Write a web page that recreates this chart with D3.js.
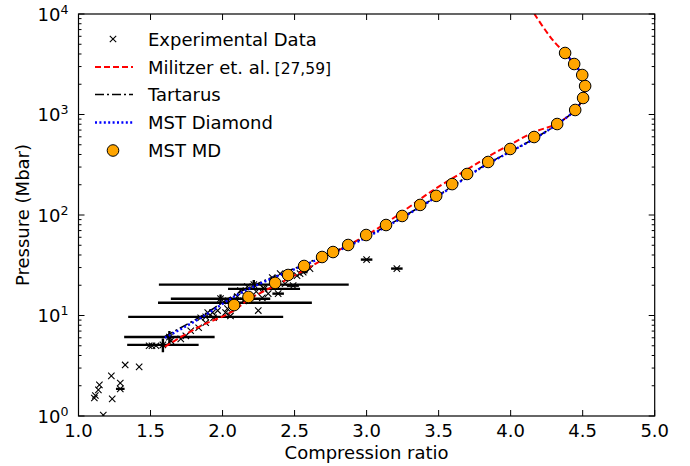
<!DOCTYPE html>
<html>
<head>
<meta charset="utf-8">
<script src="https://cdn.jsdelivr.net/npm/d3@7/dist/d3.min.js"></script>
<style>
  html, body { margin: 0; padding: 0; background: #fff; }
  text { font-family: "DejaVu Sans", sans-serif; fill: #000; }
</style>
</head>
<body>
<svg id="chart" width="690" height="466"></svg>
<script>
// ---------------- data ----------------
const xTicks = [1.0, 1.5, 2.0, 2.5, 3.0, 3.5, 4.0, 4.5, 5.0];
const xTickLabels = ["1.0", "1.5", "2.0", "2.5", "3.0", "3.5", "4.0", "4.5", "5.0"];
const yTicks = [1, 10, 100, 1000, 10000];
const yTickExps = ["0", "1", "2", "3", "4"];

// MST MD (orange circles)
const mdX = [2.08, 2.18, 2.365, 2.455, 2.566, 2.691, 2.767, 2.872, 2.997, 3.135, 3.247, 3.372, 3.483, 3.594, 3.698, 3.844, 3.997, 4.163, 4.323, 4.448, 4.503, 4.517, 4.497, 4.441, 4.378];
const mdP = [12.7, 15.3, 21.1, 25.3, 31.1, 38.2, 42.8, 50.3, 63.2, 79.5, 97.8, 126, 155, 203, 256, 337, 454, 597, 804, 1109, 1459, 1921, 2471, 3180, 4093];

// Militzer et al. (red dashed)
const milX = [1.6, 1.85, 2.05, 2.2, 2.4, 2.6, 2.8, 3.0, 3.2, 3.45, 3.7, 3.85, 4.0, 4.16, 4.32, 4.448, 4.503, 4.517, 4.497, 4.441, 4.378, 4.309, 4.24, 4.165];
const milP = [4.9, 7.9, 10.6, 15, 21, 30, 44, 63, 96, 172, 285, 385, 505, 665, 810, 1109, 1459, 1921, 2471, 3180, 4093, 5150, 6930, 10000];

// Tartarus (black dash-dot)
const tarX = [1.6, 1.85, 2.1, 2.3, 2.55, 2.8, 3.0, 3.2, 3.4, 3.6, 3.8, 4.0, 4.163, 4.323, 4.448, 4.503, 4.517, 4.497, 4.441, 4.378];
const tarP = [6.2, 9.8, 16.5, 22.5, 31.5, 45, 61, 87, 128, 195, 300, 430, 575, 800, 1109, 1459, 1921, 2471, 3180, 4093];

// MST Diamond (blue dotted)
const diaX = [1.6, 1.85, 2.1, 2.3, 2.55, 2.8, 3.0, 3.2, 3.4, 3.6, 3.8, 4.0, 4.163, 4.323, 4.448, 4.503, 4.517, 4.497, 4.441, 4.378];
const diaP = [6.0, 9.5, 16, 22, 31, 44, 60, 86, 127, 193, 298, 428, 572, 800, 1109, 1459, 1921, 2471, 3180, 4093];

// Experimental data (x markers, with error bars)
const expX = [1.110, 1.117, 1.138, 1.145, 1.172, 1.228, 1.234, 1.290, 1.290, 1.324, 1.421, 1.490, 1.510, 1.538, 1.586, 1.631, 1.641, 1.710, 1.745, 1.779, 1.834, 1.883, 1.848, 1.897, 1.938, 1.931, 1.966, 1.986, 2.021, 2.055, 2.034, 1.883, 2.145, 2.086, 2.217, 2.248, 2.276, 2.317, 2.386, 2.434, 2.490, 2.538, 2.345, 2.400, 2.517, 2.288, 2.124, 2.172, 2.041, 2.103, 2.234, 2.283, 2.607, 3.000, 3.210, 2.560];
const expP = [1.51, 1.60, 1.82, 2.04, 1.02, 2.51, 1.48, 2.13, 1.86, 3.22, 3.08, 5.0, 5.0, 5.0, 5.1, 6.1, 5.6, 5.86, 6.28, 7.05, 7.55, 8.47, 9.5, 10.7, 9.5, 10.7, 11.2, 14.7, 10.7, 9.9, 11.7, 9.7, 14.0, 13.4, 20.3, 11.2, 15.0, 16.5, 16.5, 20.7, 19.8, 26.1, 23.8, 26.1, 24.9, 18.4, 17.7, 19.4, 14.0, 15.4, 17.3, 18.9, 29.3, 36.0, 29.3, 27.0];
const expXErr = [0, 0, 0, 0, 0, 0, 0, 0, 0.03, 0, 0, 0, 0, 0, 0.248, 0.314, 0, 0, 0, 0, 0, 0, 0, 0, 0, 0, 0, 0.345, 0, 0, 0, 0.538, 0, 0.534, 0.659, 0, 0, 0, 0.04, 0, 0.04, 0, 0, 0, 0, 0.25, 0, 0, 0, 0, 0, 0, 0, 0.04, 0.04, 0.03];
const expPErr = [0, 0, 0, 0, 0, 0, 0, 0, 0, 0, 0, 0, 0, 0, 0.8, 0.9, 0, 0, 0, 0, 0, 0, 0, 0, 0, 0, 0, 1.5, 0, 0, 0, 0, 0, 0, 2.2, 0, 0, 0, 0, 0, 0, 0, 0, 0, 0, 0, 0, 0, 0, 0, 0, 0, 0, 0, 0, 0];

const legendLabels = ["Experimental Data", "Militzer et. al.", "Tartarus", "MST Diamond", "MST MD"];

// ---------------- layout ----------------
const W = 690, H = 466;
const plotL = 78.5, plotR = 654.7, plotT = 14, plotB = 416;
const svg = d3.select("#chart");

const x = d3.scaleLinear().domain([1, 5]).range([plotL, plotR]);
const y = d3.scaleLog().domain([1, 10000]).range([plotB, plotT]);

svg.append("defs").append("clipPath").attr("id", "clip")
  .append("rect").attr("x", plotL).attr("y", plotT)
  .attr("width", plotR - plotL).attr("height", plotB - plotT);

const plot = svg.append("g").attr("clip-path", "url(#clip)");

// experimental data
const expData = expX.map((v, i) => ({x: v, p: expP[i], xe: expXErr[i], pe: expPErr[i]}));
const eg = plot.append("g");
expData.filter(d => d.xe > 0).forEach(d => {
  eg.append("line").attr("x1", x(d.x - d.xe)).attr("x2", x(d.x + d.xe))
    .attr("y1", y(d.p)).attr("y2", y(d.p))
    .attr("stroke", "#000").attr("stroke-width", 2.4);
});
expData.filter(d => d.pe > 0).forEach(d => {
  eg.append("line").attr("x1", x(d.x)).attr("x2", x(d.x))
    .attr("y1", y(d.p - d.pe)).attr("y2", y(d.p + d.pe))
    .attr("stroke", "#000").attr("stroke-width", 2.4);
});
const ms = 3.2;
expData.forEach(d => {
  const cx = x(d.x), cy = y(d.p);
  eg.append("path")
    .attr("d", `M${cx-ms},${cy-ms}L${cx+ms},${cy+ms}M${cx-ms},${cy+ms}L${cx+ms},${cy-ms}`)
    .attr("stroke", "#000").attr("stroke-width", 1.1).attr("fill", "none");
});

// lines
const line = d3.line().x(d => x(d[0])).y(d => y(d[1])).curve(d3.curveCatmullRom.alpha(0.5));
const mil = milX.map((v, i) => [v, milP[i]]);
const tar = tarX.map((v, i) => [v, tarP[i]]);
const dia = diaX.map((v, i) => [v, diaP[i]]);

plot.append("path").attr("d", line(mil)).attr("fill", "none")
  .attr("stroke", "#ff0000").attr("stroke-width", 2).attr("stroke-dasharray", "6,3");
plot.append("path").attr("d", line(tar)).attr("fill", "none")
  .attr("stroke", "#000").attr("stroke-width", 1.6).attr("stroke-dasharray", "9,3,2,3");
plot.append("path").attr("d", line(dia)).attr("fill", "none")
  .attr("stroke", "#0000ff").attr("stroke-width", 2.4).attr("stroke-dasharray", "2,2.4");

// MST MD circles
plot.append("g").selectAll("circle").data(mdX.map((v, i) => [v, mdP[i]])).join("circle")
  .attr("cx", d => x(d[0])).attr("cy", d => y(d[1])).attr("r", 5.8)
  .attr("fill", "#ffa500").attr("stroke", "#000").attr("stroke-width", 1);

// frame
svg.append("rect").attr("x", plotL).attr("y", plotT)
  .attr("width", plotR - plotL).attr("height", plotB - plotT)
  .attr("fill", "none").attr("stroke", "#000").attr("stroke-width", 1.2);

// ticks
const tg = svg.append("g").attr("stroke", "#000").attr("stroke-width", 1);
const majLen = 6, minLen = 3;
xTicks.forEach(t => {
  tg.append("line").attr("x1", x(t)).attr("x2", x(t)).attr("y1", plotB).attr("y2", plotB - majLen);
  tg.append("line").attr("x1", x(t)).attr("x2", x(t)).attr("y1", plotT).attr("y2", plotT + majLen);
});
yTicks.forEach(t => {
  tg.append("line").attr("x1", plotL).attr("x2", plotL + majLen).attr("y1", y(t)).attr("y2", y(t));
  tg.append("line").attr("x1", plotR).attr("x2", plotR - majLen).attr("y1", y(t)).attr("y2", y(t));
});
y.ticks().filter(t => !yTicks.includes(t)).forEach(t => {
  tg.append("line").attr("x1", plotL).attr("x2", plotL + minLen).attr("y1", y(t)).attr("y2", y(t));
  tg.append("line").attr("x1", plotR).attr("x2", plotR - minLen).attr("y1", y(t)).attr("y2", y(t));
});

// tick labels
const fs = 18;
xTicks.forEach((t, i) => {
  svg.append("text").attr("x", x(t)).attr("y", plotB + 21).attr("text-anchor", "middle")
    .attr("font-size", fs).text(xTickLabels[i]);
});
yTicks.forEach((t, i) => {
  const tx = svg.append("text").attr("x", plotL - 10).attr("y", y(t) + 6.5)
    .attr("text-anchor", "end").attr("font-size", fs);
  tx.append("tspan").text("10");
  tx.append("tspan").attr("dy", -7).attr("font-size", 12.6).text(yTickExps[i]);
});

// axis labels
svg.append("text").attr("x", (plotL + plotR) / 2).attr("y", 459).attr("text-anchor", "middle")
  .attr("font-size", fs).text("Compression ratio");
svg.append("text").attr("transform", `translate(29,${(plotT + plotB) / 2}) rotate(-90)`)
  .attr("text-anchor", "middle").attr("font-size", fs).text("Pressure (Mbar)");

// legend
const lg = svg.append("g");
const rowY = [39, 67, 94.5, 122.5, 150.5];
const lx0 = 95, lx1 = 133, tx0 = 148;
{
  const cx = 113, cy = rowY[0];
  lg.append("path").attr("d", `M${cx-ms},${cy-ms}L${cx+ms},${cy+ms}M${cx-ms},${cy+ms}L${cx+ms},${cy-ms}`)
    .attr("stroke", "#000").attr("stroke-width", 1.1);
}
lg.append("line").attr("x1", lx0).attr("x2", lx1).attr("y1", rowY[1]).attr("y2", rowY[1])
  .attr("stroke", "#ff0000").attr("stroke-width", 2).attr("stroke-dasharray", "6,3");
lg.append("line").attr("x1", lx0).attr("x2", lx1).attr("y1", rowY[2]).attr("y2", rowY[2])
  .attr("stroke", "#000").attr("stroke-width", 1.6).attr("stroke-dasharray", "9,3,2,3");
lg.append("line").attr("x1", lx0).attr("x2", lx1).attr("y1", rowY[3]).attr("y2", rowY[3])
  .attr("stroke", "#0000ff").attr("stroke-width", 2.4).attr("stroke-dasharray", "2,2.4");
lg.append("circle").attr("cx", 113).attr("cy", rowY[4]).attr("r", 5.8)
  .attr("fill", "#ffa500").attr("stroke", "#000").attr("stroke-width", 1);
legendLabels.forEach((l, i) => {
  const t = lg.append("text").attr("x", tx0).attr("y", rowY[i] + 6.5).attr("font-size", fs).text(l);
  if (i === 1) t.append("tspan").attr("dx", 4).attr("font-size", 15.5).text("[27,59]");
});
</script>
</body>
</html>
